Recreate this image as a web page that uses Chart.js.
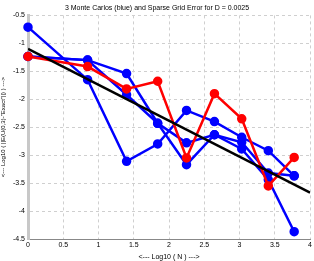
<!DOCTYPE html>
<html>
<head>
<meta charset="utf-8">
<script src="https://cdn.jsdelivr.net/npm/chart.js@4/dist/chart.umd.min.js"></script>
<style>
body { margin: 0; background: #fff; }
#chart { display: block; }
</style>
</head>
<body>
<canvas id="chart" width="314" height="261"></canvas>
<script>
// log10 of the number of sparse grid points per level
const logN = [0, 0.845, 1.398, 1.839, 2.248, 2.644, 3.031, 3.408, 3.775];

// three Monte Carlo runs (blue)
const mc1 = [-0.71, -1.65, -3.11, -2.80, -2.20, -2.40, -2.68, -2.92, -3.37];
const mc2 = [-1.235, -1.30, -1.54, -2.43, -2.78, -2.635, -2.77, -3.32, -3.37];
const mc3 = [-1.235, -1.30, -1.92, -2.43, -3.17, -2.635, -2.89, -3.44, -4.37];

// sparse grid error (red)
const sparse = [-1.235, -1.415, -1.815, -1.678, -3.05, -1.90, -2.35, -3.55, -3.04];

// fitted line (black)
const fitX = [0, 4];
const fitY = [-1.10, -3.67];

const xTicks = [0, 0.5, 1, 1.5, 2, 2.5, 3, 3.5, 4];
const yTicks = [-4.5, -4, -3.5, -3, -2.5, -2, -1.5, -1, -0.5];

function pts(xs, ys) {
    return xs.map(function (x, i) { return { x: x, y: ys[i] }; });
}

function series(ys, color, order) {
    return {
        data: pts(logN, ys),
        showLine: true,
        borderColor: color,
        backgroundColor: color,
        borderWidth: 2.5,
        pointRadius: 3.5,
        pointHoverRadius: 3.5,
        clip: false,
        order: order
    };
}

function plain(v) { return String(v); }

const font = { family: "Arial, 'Liberation Sans', sans-serif", size: 7 };

new Chart(document.getElementById("chart").getContext("2d"), {
    type: 'scatter',
    data: {
        datasets: [
            {
                data: pts(fitX, fitY),
                showLine: true,
                borderColor: '#000',
                borderWidth: 2.5,
                pointRadius: 0,
                order: 0
            },
            series(sparse, '#ff0000', 1),
            series(mc1, '#0000ff', 2),
            series(mc2, '#0000ff', 2),
            series(mc3, '#0000ff', 2)
        ]
    },
    options: {
        responsive: false,
        animation: false,
        layout: { autoPadding: false, padding: { top: 0, right: 0, bottom: 0, left: 0 } },
        plugins: {
            legend: { display: false },
            tooltip: { enabled: false },
            title: {
                display: true,
                text: '3 Monte Carlos (blue) and Sparse Grid Error for D = 0.0025',
                color: '#000',
                font: { family: font.family, size: 7, weight: 'normal' },
                padding: { top: 4, bottom: 3 }
            }
        },
        scales: {
            x: {
                type: 'linear',
                min: 0,
                max: 4,
                afterBuildTicks: function (axis) {
                    axis.ticks = xTicks.map(function (v) { return { value: v }; });
                },
                afterFit: function (axis) { axis.height = 22; },
                ticks: { color: '#000', font: font, padding: 2, maxRotation: 0, callback: plain },
                grid: { color: '#cfcfcf', tickLength: 0, drawTicks: false },
                border: { color: '#888', width: 1, dash: [3, 3] },
                title: {
                    display: true,
                    text: '<--- Log10 ( N ) --->',
                    color: '#000',
                    font: font,
                    padding: { top: 0, bottom: 0 }
                }
            },
            y: {
                type: 'linear',
                min: -4.5,
                max: -0.5,
                afterBuildTicks: function (axis) {
                    axis.ticks = yTicks.map(function (v) { return { value: v }; });
                },
                afterFit: function (axis) { axis.width = 28; },
                ticks: { color: '#000', font: font, padding: 3, callback: plain },
                grid: { color: '#cfcfcf', tickLength: 0, drawTicks: false },
                border: { color: '#c8c8c8', width: 3, dash: [3, 3] },
                title: {
                    display: true,
                    text: '<--- Log10 ( ||E(U(0,3)-"Exact"||) ) --->',
                    color: '#000',
                    font: { family: font.family, size: 6 },
                    padding: { top: 0, bottom: 0 }
                }
            }
        }
    }
});
</script>
</body>
</html>
